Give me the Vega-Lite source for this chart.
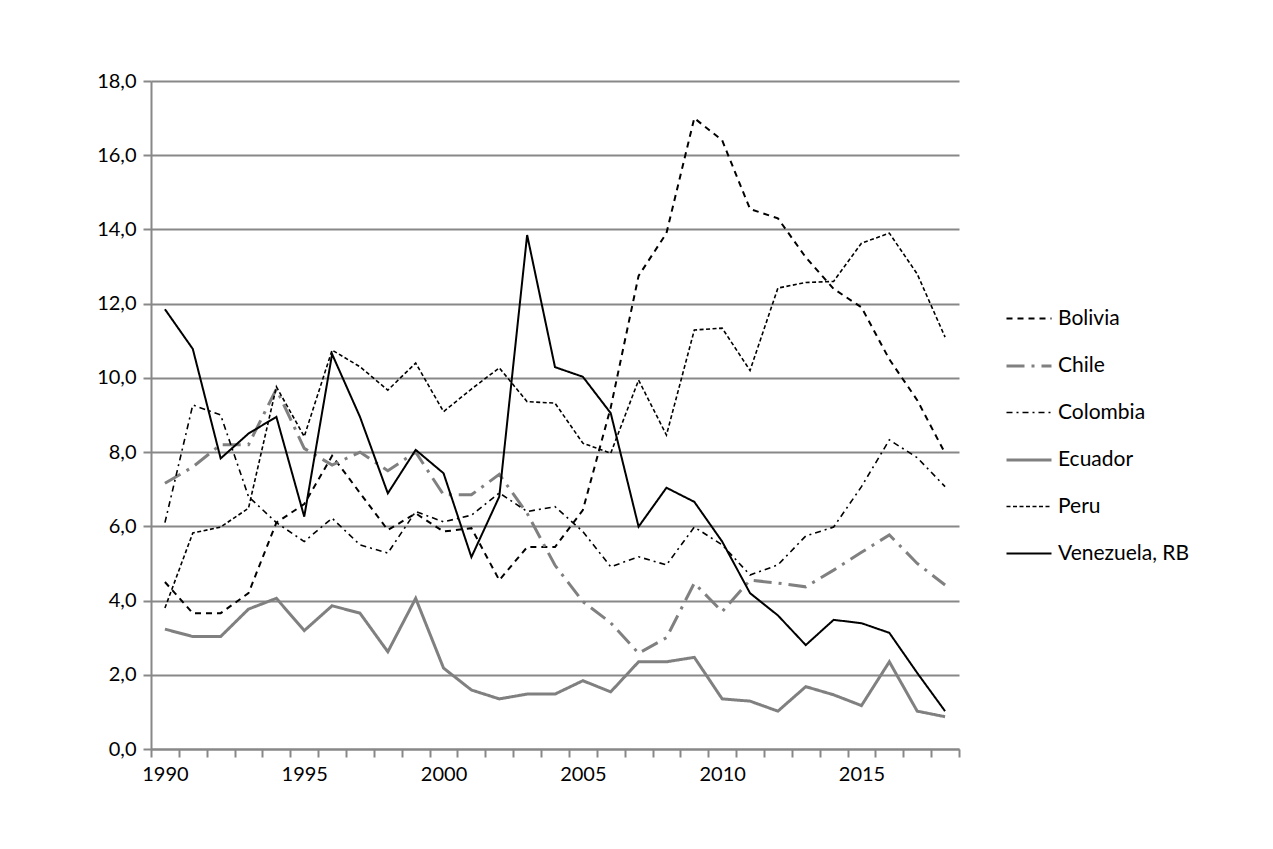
{
  "$schema": "https://vega.github.io/schema/vega-lite/v6.json",
  "autosize": "none",
  "width": 808,
  "height": 668,
  "padding": {"left": 151, "top": 81, "right": 314, "bottom": 100},
  "background": "white",
  "config": {
    "font": "Lato",
    "view": {"stroke": null},
    "axis": {"labelFont": "Lato", "labelColor": "#000000", "labelFontSize": 20}
  },
  "datasets": {
    "rows": [
      {"country": "Bolivia", "year": 1990, "value": 4.5},
      {"country": "Bolivia", "year": 1991, "value": 3.66},
      {"country": "Bolivia", "year": 1992, "value": 3.66},
      {"country": "Bolivia", "year": 1993, "value": 4.2},
      {"country": "Bolivia", "year": 1994, "value": 6.1},
      {"country": "Bolivia", "year": 1995, "value": 6.6},
      {"country": "Bolivia", "year": 1996, "value": 7.9},
      {"country": "Bolivia", "year": 1997, "value": 6.9},
      {"country": "Bolivia", "year": 1998, "value": 5.9},
      {"country": "Bolivia", "year": 1999, "value": 6.35},
      {"country": "Bolivia", "year": 2000, "value": 5.86},
      {"country": "Bolivia", "year": 2001, "value": 5.95},
      {"country": "Bolivia", "year": 2002, "value": 4.55},
      {"country": "Bolivia", "year": 2003, "value": 5.44},
      {"country": "Bolivia", "year": 2004, "value": 5.44},
      {"country": "Bolivia", "year": 2005, "value": 6.44},
      {"country": "Bolivia", "year": 2006, "value": 9.2},
      {"country": "Bolivia", "year": 2007, "value": 12.75},
      {"country": "Bolivia", "year": 2008, "value": 13.9},
      {"country": "Bolivia", "year": 2009, "value": 17.0},
      {"country": "Bolivia", "year": 2010, "value": 16.4},
      {"country": "Bolivia", "year": 2011, "value": 14.55},
      {"country": "Bolivia", "year": 2012, "value": 14.3},
      {"country": "Bolivia", "year": 2013, "value": 13.25},
      {"country": "Bolivia", "year": 2014, "value": 12.4},
      {"country": "Bolivia", "year": 2015, "value": 11.9},
      {"country": "Bolivia", "year": 2016, "value": 10.5},
      {"country": "Bolivia", "year": 2017, "value": 9.4},
      {"country": "Bolivia", "year": 2018, "value": 7.97},
      {"country": "Chile", "year": 1990, "value": 7.16},
      {"country": "Chile", "year": 1991, "value": 7.6},
      {"country": "Chile", "year": 1992, "value": 8.2},
      {"country": "Chile", "year": 1993, "value": 8.2},
      {"country": "Chile", "year": 1994, "value": 9.7},
      {"country": "Chile", "year": 1995, "value": 8.1},
      {"country": "Chile", "year": 1996, "value": 7.65},
      {"country": "Chile", "year": 1997, "value": 8.0},
      {"country": "Chile", "year": 1998, "value": 7.5},
      {"country": "Chile", "year": 1999, "value": 8.0},
      {"country": "Chile", "year": 2000, "value": 6.85},
      {"country": "Chile", "year": 2001, "value": 6.85},
      {"country": "Chile", "year": 2002, "value": 7.4},
      {"country": "Chile", "year": 2003, "value": 6.35},
      {"country": "Chile", "year": 2004, "value": 4.95},
      {"country": "Chile", "year": 2005, "value": 3.97},
      {"country": "Chile", "year": 2006, "value": 3.4},
      {"country": "Chile", "year": 2007, "value": 2.58},
      {"country": "Chile", "year": 2008, "value": 3.0},
      {"country": "Chile", "year": 2009, "value": 4.47},
      {"country": "Chile", "year": 2010, "value": 3.7},
      {"country": "Chile", "year": 2011, "value": 4.55},
      {"country": "Chile", "year": 2012, "value": 4.47},
      {"country": "Chile", "year": 2013, "value": 4.37},
      {"country": "Chile", "year": 2014, "value": 4.82},
      {"country": "Chile", "year": 2015, "value": 5.3},
      {"country": "Chile", "year": 2016, "value": 5.77},
      {"country": "Chile", "year": 2017, "value": 5.0},
      {"country": "Chile", "year": 2018, "value": 4.42},
      {"country": "Colombia", "year": 1990, "value": 6.1},
      {"country": "Colombia", "year": 1991, "value": 9.27},
      {"country": "Colombia", "year": 1992, "value": 9.0},
      {"country": "Colombia", "year": 1993, "value": 6.8},
      {"country": "Colombia", "year": 1994, "value": 6.1},
      {"country": "Colombia", "year": 1995, "value": 5.59},
      {"country": "Colombia", "year": 1996, "value": 6.22},
      {"country": "Colombia", "year": 1997, "value": 5.5},
      {"country": "Colombia", "year": 1998, "value": 5.28},
      {"country": "Colombia", "year": 1999, "value": 6.4},
      {"country": "Colombia", "year": 2000, "value": 6.12},
      {"country": "Colombia", "year": 2001, "value": 6.3},
      {"country": "Colombia", "year": 2002, "value": 6.9},
      {"country": "Colombia", "year": 2003, "value": 6.4},
      {"country": "Colombia", "year": 2004, "value": 6.53},
      {"country": "Colombia", "year": 2005, "value": 5.86},
      {"country": "Colombia", "year": 2006, "value": 4.91},
      {"country": "Colombia", "year": 2007, "value": 5.18},
      {"country": "Colombia", "year": 2008, "value": 4.96},
      {"country": "Colombia", "year": 2009, "value": 5.98},
      {"country": "Colombia", "year": 2010, "value": 5.5},
      {"country": "Colombia", "year": 2011, "value": 4.69},
      {"country": "Colombia", "year": 2012, "value": 4.96},
      {"country": "Colombia", "year": 2013, "value": 5.74},
      {"country": "Colombia", "year": 2014, "value": 5.98},
      {"country": "Colombia", "year": 2015, "value": 7.07},
      {"country": "Colombia", "year": 2016, "value": 8.33},
      {"country": "Colombia", "year": 2017, "value": 7.85},
      {"country": "Colombia", "year": 2018, "value": 7.07},
      {"country": "Ecuador", "year": 1990, "value": 3.23},
      {"country": "Ecuador", "year": 1991, "value": 3.03},
      {"country": "Ecuador", "year": 1992, "value": 3.03},
      {"country": "Ecuador", "year": 1993, "value": 3.77},
      {"country": "Ecuador", "year": 1994, "value": 4.06},
      {"country": "Ecuador", "year": 1995, "value": 3.19},
      {"country": "Ecuador", "year": 1996, "value": 3.86},
      {"country": "Ecuador", "year": 1997, "value": 3.66},
      {"country": "Ecuador", "year": 1998, "value": 2.62},
      {"country": "Ecuador", "year": 1999, "value": 4.06},
      {"country": "Ecuador", "year": 2000, "value": 2.18},
      {"country": "Ecuador", "year": 2001, "value": 1.59},
      {"country": "Ecuador", "year": 2002, "value": 1.35},
      {"country": "Ecuador", "year": 2003, "value": 1.48},
      {"country": "Ecuador", "year": 2004, "value": 1.48},
      {"country": "Ecuador", "year": 2005, "value": 1.84},
      {"country": "Ecuador", "year": 2006, "value": 1.54},
      {"country": "Ecuador", "year": 2007, "value": 2.35},
      {"country": "Ecuador", "year": 2008, "value": 2.35},
      {"country": "Ecuador", "year": 2009, "value": 2.47},
      {"country": "Ecuador", "year": 2010, "value": 1.35},
      {"country": "Ecuador", "year": 2011, "value": 1.29},
      {"country": "Ecuador", "year": 2012, "value": 1.02},
      {"country": "Ecuador", "year": 2013, "value": 1.68},
      {"country": "Ecuador", "year": 2014, "value": 1.46},
      {"country": "Ecuador", "year": 2015, "value": 1.17},
      {"country": "Ecuador", "year": 2016, "value": 2.35},
      {"country": "Ecuador", "year": 2017, "value": 1.02},
      {"country": "Ecuador", "year": 2018, "value": 0.87},
      {"country": "Peru", "year": 1990, "value": 3.8},
      {"country": "Peru", "year": 1991, "value": 5.82},
      {"country": "Peru", "year": 1992, "value": 5.98},
      {"country": "Peru", "year": 1993, "value": 6.49},
      {"country": "Peru", "year": 1994, "value": 9.76},
      {"country": "Peru", "year": 1995, "value": 8.42},
      {"country": "Peru", "year": 1996, "value": 10.75},
      {"country": "Peru", "year": 1997, "value": 10.3},
      {"country": "Peru", "year": 1998, "value": 9.67},
      {"country": "Peru", "year": 1999, "value": 10.4},
      {"country": "Peru", "year": 2000, "value": 9.09},
      {"country": "Peru", "year": 2001, "value": 9.7},
      {"country": "Peru", "year": 2002, "value": 10.27},
      {"country": "Peru", "year": 2003, "value": 9.36},
      {"country": "Peru", "year": 2004, "value": 9.32},
      {"country": "Peru", "year": 2005, "value": 8.24},
      {"country": "Peru", "year": 2006, "value": 7.97},
      {"country": "Peru", "year": 2007, "value": 9.94},
      {"country": "Peru", "year": 2008, "value": 8.46},
      {"country": "Peru", "year": 2009, "value": 11.29},
      {"country": "Peru", "year": 2010, "value": 11.34},
      {"country": "Peru", "year": 2011, "value": 10.2},
      {"country": "Peru", "year": 2012, "value": 12.42},
      {"country": "Peru", "year": 2013, "value": 12.57},
      {"country": "Peru", "year": 2014, "value": 12.6},
      {"country": "Peru", "year": 2015, "value": 13.63},
      {"country": "Peru", "year": 2016, "value": 13.9},
      {"country": "Peru", "year": 2017, "value": 12.8},
      {"country": "Peru", "year": 2018, "value": 11.1},
      {"country": "Venezuela, RB", "year": 1990, "value": 11.85},
      {"country": "Venezuela, RB", "year": 1991, "value": 10.78},
      {"country": "Venezuela, RB", "year": 1992, "value": 7.83},
      {"country": "Venezuela, RB", "year": 1993, "value": 8.5},
      {"country": "Venezuela, RB", "year": 1994, "value": 8.95},
      {"country": "Venezuela, RB", "year": 1995, "value": 6.26},
      {"country": "Venezuela, RB", "year": 1996, "value": 10.64},
      {"country": "Venezuela, RB", "year": 1997, "value": 8.95},
      {"country": "Venezuela, RB", "year": 1998, "value": 6.89},
      {"country": "Venezuela, RB", "year": 1999, "value": 8.06},
      {"country": "Venezuela, RB", "year": 2000, "value": 7.43},
      {"country": "Venezuela, RB", "year": 2001, "value": 5.17},
      {"country": "Venezuela, RB", "year": 2002, "value": 6.8},
      {"country": "Venezuela, RB", "year": 2003, "value": 13.85},
      {"country": "Venezuela, RB", "year": 2004, "value": 10.29},
      {"country": "Venezuela, RB", "year": 2005, "value": 10.03},
      {"country": "Venezuela, RB", "year": 2006, "value": 9.05},
      {"country": "Venezuela, RB", "year": 2007, "value": 5.99},
      {"country": "Venezuela, RB", "year": 2008, "value": 7.04},
      {"country": "Venezuela, RB", "year": 2009, "value": 6.66},
      {"country": "Venezuela, RB", "year": 2010, "value": 5.59},
      {"country": "Venezuela, RB", "year": 2011, "value": 4.2},
      {"country": "Venezuela, RB", "year": 2012, "value": 3.6},
      {"country": "Venezuela, RB", "year": 2013, "value": 2.8},
      {"country": "Venezuela, RB", "year": 2014, "value": 3.48},
      {"country": "Venezuela, RB", "year": 2015, "value": 3.39},
      {"country": "Venezuela, RB", "year": 2016, "value": 3.13},
      {"country": "Venezuela, RB", "year": 2017, "value": 2.05},
      {"country": "Venezuela, RB", "year": 2018, "value": 1.02}
    ]
  },
  "data": {"name": "rows"},
  "mark": {"type": "line", "strokeJoin": "miter", "strokeCap": "butt"},
  "encoding": {
    "x": {
      "field": "year",
      "type": "quantitative",
      "scale": {"domain": [1989.5, 2018.5], "nice": false, "zero": false},
      "axis": {
        "title": null,
        "grid": false,
        "values": [1989.5, 1990, 1990.5, 1991.5, 1992.5, 1993.5, 1994.5, 1995, 1995.5, 1996.5, 1997.5, 1998.5, 1999.5, 2000, 2000.5, 2001.5, 2002.5, 2003.5, 2004.5, 2005, 2005.5, 2006.5, 2007.5, 2008.5, 2009.5, 2010, 2010.5, 2011.5, 2012.5, 2013.5, 2014.5, 2015, 2015.5, 2016.5, 2017.5, 2018.5],
        "labelExpr": "datum.value % 5 === 0 ? format(datum.value, 'd') : ''",
        "labelOverlap": false,
        "labelFlush": false,
        "domainColor": "#888888",
        "domainWidth": 2,
        "tickColor": "#888888",
        "tickWidth": 2,
        "tickSize": 8,
        "tickOpacity": {"condition": {"test": "datum.value % 1 === 0", "value": 0}, "value": 1},
        "labelPadding": 7
      }
    },
    "y": {
      "field": "value",
      "type": "quantitative",
      "scale": {"domain": [0, 18], "nice": false},
      "axis": {
        "title": null,
        "values": [0, 2, 4, 6, 8, 10, 12, 14, 16, 18],
        "labelExpr": "replace(format(datum.value, '.1f'), '.', ',')",
        "grid": true,
        "gridColor": "#888888",
        "gridWidth": 2,
        "domainColor": "#888888",
        "domainWidth": 2,
        "tickColor": "#888888",
        "tickWidth": 2,
        "tickSize": 8,
        "labelPadding": 7
      }
    },
    "color": {
      "field": "country",
      "type": "nominal",
      "scale": {
        "domain": ["Bolivia", "Chile", "Colombia", "Ecuador", "Peru", "Venezuela, RB"],
        "range": ["#000000", "#808080", "#000000", "#808080", "#000000", "#000000"]
      },
      "legend": {
        "title": null,
        "orient": "none",
        "legendX": 854,
        "legendY": 214,
        "symbolType": "stroke",
        "symbolSize": 2025,
        "labelFontSize": 21,
        "labelFont": "Lato",
        "labelColor": "#000000",
        "labelOffset": 5,
        "rowPadding": 13
      }
    },
    "strokeDash": {
      "field": "country",
      "type": "nominal",
      "scale": {
        "domain": ["Bolivia", "Chile", "Colombia", "Ecuador", "Peru", "Venezuela, RB"],
        "range": [[6, 5], [18, 7, 3, 7], [6, 4, 2, 4], [1, 0], [4, 2.5], [1, 0]]
      },
      "legend": {
        "title": null,
        "orient": "none",
        "legendX": 854,
        "legendY": 214,
        "symbolType": "stroke",
        "symbolSize": 2025,
        "labelFontSize": 21,
        "labelFont": "Lato",
        "labelColor": "#000000",
        "labelOffset": 5,
        "rowPadding": 13
      }
    },
    "strokeWidth": {
      "field": "country",
      "type": "nominal",
      "scale": {
        "type": "ordinal",
        "domain": ["Bolivia", "Chile", "Colombia", "Ecuador", "Peru", "Venezuela, RB"],
        "range": [2, 3, 1.6, 3, 1.6, 2]
      },
      "legend": {
        "title": null,
        "orient": "none",
        "legendX": 854,
        "legendY": 214,
        "symbolType": "stroke",
        "symbolSize": 2025,
        "labelFontSize": 21,
        "labelFont": "Lato",
        "labelColor": "#000000",
        "labelOffset": 5,
        "rowPadding": 13
      }
    }
  }
}
